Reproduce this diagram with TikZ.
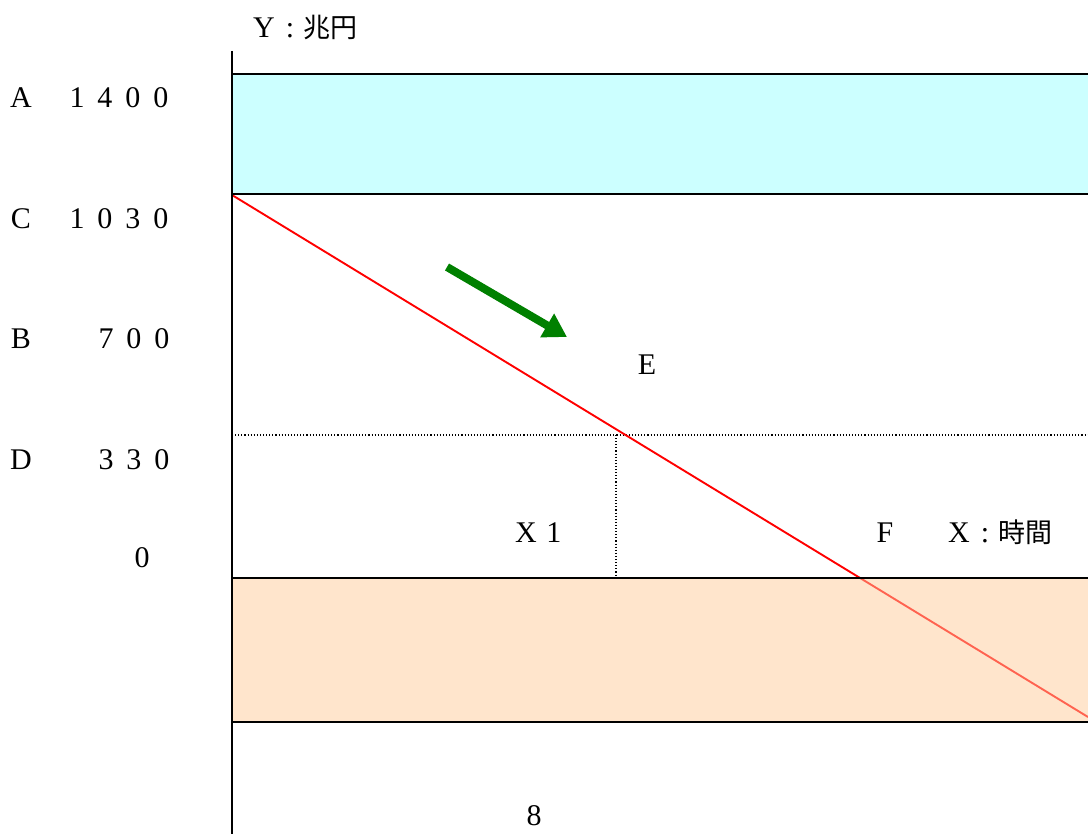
\documentclass[tikz,border=0pt]{standalone}
\usepackage{fontspec}
\setmainfont{Liberation Serif}
\newfontfamily\cjk{Noto Sans CJK JP}
\usetikzlibrary{arrows.meta,calc}
\definecolor{boxcyan}{RGB}{204,255,255}
\definecolor{boxorange}{RGB}{255,229,204}
\definecolor{lightred}{RGB}{255,99,80}
\definecolor{arrowgreen}{RGB}{0,128,0}
\newcommand\fwc[2][28pt]{\makebox[#1]{#2}}
\newcommand\kj[1]{{\cjk\fontsize{27pt}{30pt}\selectfont #1}}
\begin{document}
\begin{tikzpicture}[x=1pt,y=-1pt,
  lab/.style={inner sep=0pt,outer sep=0pt,font=\fontsize{30pt}{32pt}\selectfont},
  border/.style={line width=1.8pt,black},
  axisline/.style={line width=1.8pt,black},
  guide/.style={line width=1.1pt,black,dotted},
  demand/.style={line width=1.9pt,red},
  greenarrow/.style={line width=8pt,arrowgreen,-{Triangle[length=23pt,width=26pt]}}]
\useasboundingbox (0,0) rectangle (1088,834);
% boxes
\fill[boxcyan] (232,74) rectangle (1088,194);
\fill[boxorange] (232,578) rectangle (1088,722);
% coordinates
\coordinate (axtop) at (232,51);
\coordinate (axbot) at (232,834);
\coordinate (rs) at (232,195);
\coordinate (re) at (1088,717);
\coordinate (rf) at ($(rs)!0.7337!(re)$);
\coordinate (dl) at (232,435);
\coordinate (dr) at (1088,435);
\coordinate (vt) at (616,435);
\coordinate (vb) at (616,578);
\coordinate (ga) at (447,267);
\coordinate (gb) at (567,337);
% guides
\draw[guide] (dl) -- (dr);
\draw[guide] (vt) -- (vb);
% red line
\draw[demand] (rs) -- (rf);
\draw[demand,lightred] (rf) -- (re);
% box borders
\draw[border] (232,74) -- (1088,74);
\draw[border] (232,194) -- (1088,194);
\draw[border] (232,578) -- (1088,578);
\draw[border] (232,722) -- (1088,722);
% axis
\draw[axisline] (axtop) -- (axbot);
% green arrow
\draw[greenarrow] (ga) -- (gb);
% labels
\node[lab,anchor=base west] (ylab) at (251,38) {\fwc[26pt]{Y}\fwc[26pt]{:}\kj{兆円}};
\node[lab,anchor=base] (la) at (21,108) {A};
\node[lab,anchor=base west] (va) at (63,108) {\fwc{1}\fwc{4}\fwc{0}\fwc{0}};
\node[lab,anchor=base] (lc) at (21,229) {C};
\node[lab,anchor=base west] (vc) at (63,229) {\fwc{1}\fwc{0}\fwc{3}\fwc{0}};
\node[lab,anchor=base] (lb) at (21,349) {B};
\node[lab,anchor=base west] (vb7) at (92,349) {\fwc{7}\fwc{0}\fwc{0}};
\node[lab,anchor=base] (ld) at (21,470) {D};
\node[lab,anchor=base west] (vd) at (92,470) {\fwc{3}\fwc{3}\fwc{0}};
\node[lab,anchor=base] (zero) at (142,567) {0};
\node[lab,anchor=base] (le) at (647,375) {E};
\node[lab,anchor=base west] (x1) at (512,542) {\fwc{X}\fwc{1}};
\node[lab,anchor=base] (lf) at (885,542) {F};
\node[lab,anchor=base west] (xlab) at (946,542) {\fwc[26pt]{X}\fwc[26pt]{:}\kj{時間}};
\node[lab,anchor=base] (eight) at (534,825) {8};
\end{tikzpicture}
\end{document}
